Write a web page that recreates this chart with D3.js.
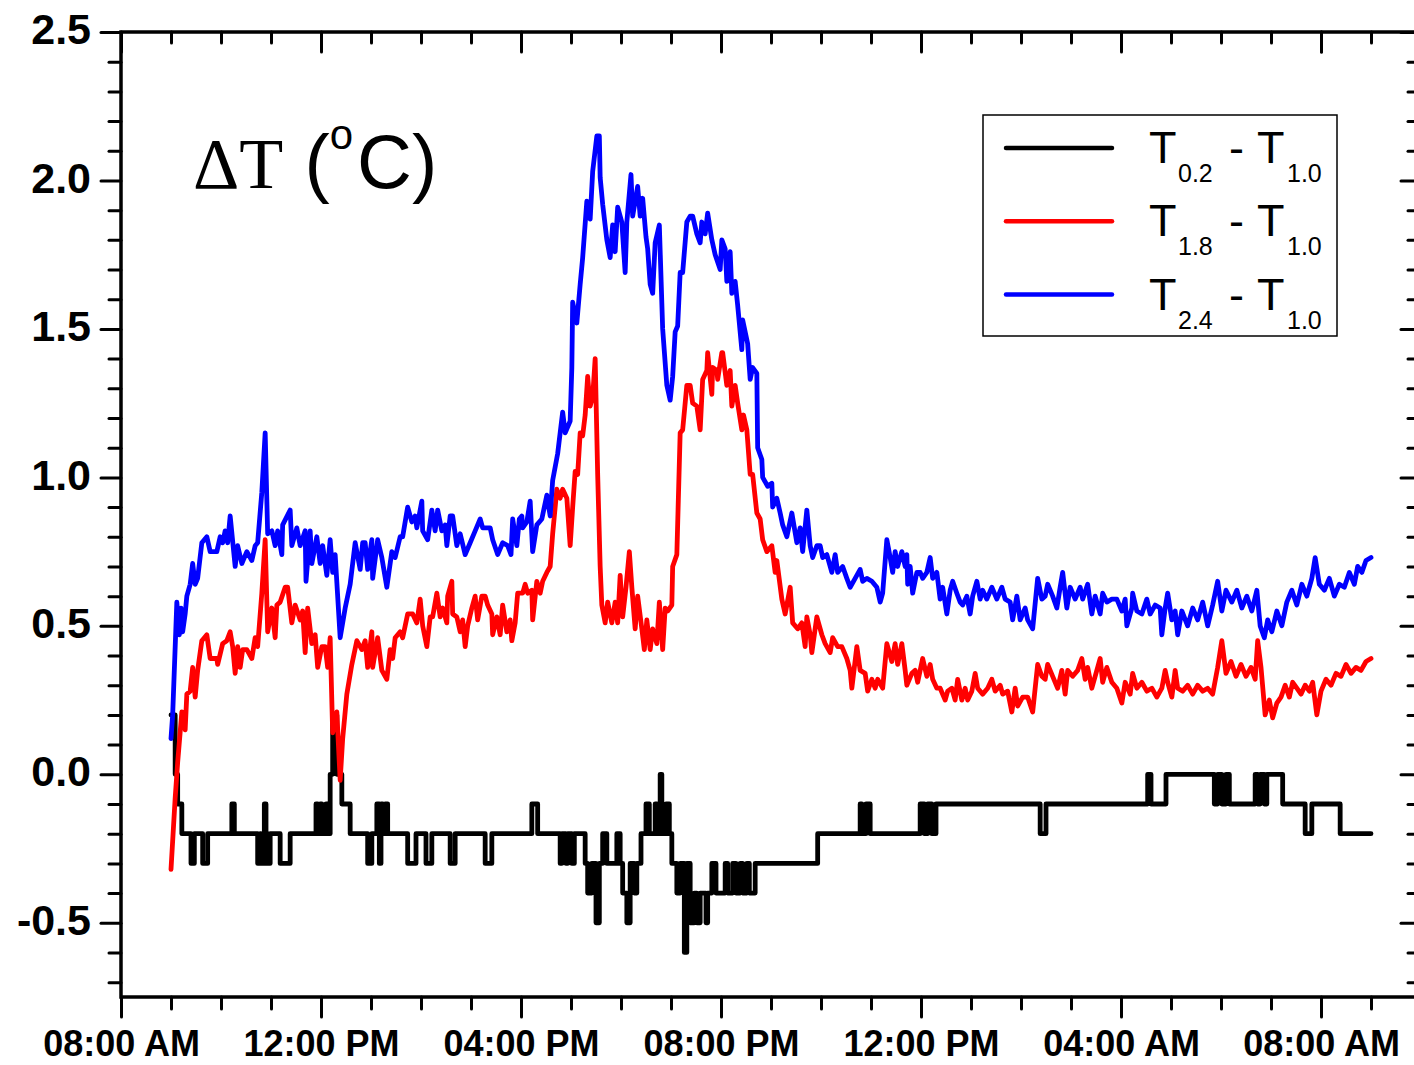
<!DOCTYPE html>
<html>
<head>
<meta charset="utf-8">
<script src="https://cdn.jsdelivr.net/npm/d3@7"></script>
<style>
  body { margin: 0; background: #fff; }
  svg { display: block; }
</style>
</head>
<body>
<svg id="chart" width="1414" height="1065"></svg>
<script>
// time is in minutes after 08:00 AM of day one, values in degC

// tick labels as printed on the original figure
let xTickLabels = ['08:00 AM', '12:00 PM', '04:00 PM', '08:00 PM', '12:00 PM', '04:00 AM', '08:00 AM'];
let yTickLabels = ['-0.5', '0.0', '0.5', '1.0', '1.5', '2.0', '2.5'];

let legendNames = [['0.2', '1.0'], ['1.8', '1.0'], ['2.4', '1.0']];

// T0.2 - T1.0 (black, stepped because it is logged at 0.1 resolution)
let dT02 = [
  [60,0.2],[65,0.0],[68,-0.1],[73,-0.2],[84,-0.3],[88,-0.2],[98,-0.3],[104,-0.2],[133,-0.1],[136,-0.2],
  [164,-0.3],[167,-0.2],[168,-0.3],[172,-0.1],[174,-0.2],[176,-0.3],[179,-0.2],[191,-0.3],[203,-0.2],
  [234,-0.1],[236,-0.2],[239,-0.1],[241,-0.2],[246,-0.1],[248,-0.2],[251,0.0],[254,0.2],[259,0.0],[265,-0.1],
  [275,-0.2],[296,-0.3],[301,-0.2],[307,-0.1],[310,-0.3],[312,-0.1],[314,-0.2],[317,-0.1],[320,-0.2],
  [344,-0.3],[354,-0.2],[366,-0.3],[373,-0.2],[395,-0.3],[401,-0.2],[437,-0.3],[445,-0.2],[493,-0.1],[500,-0.2],
  [527,-0.3],[529,-0.2],[534,-0.3],[536,-0.2],[541,-0.3],[544,-0.2],[557,-0.3],[560,-0.4],[565,-0.3],[570,-0.5],
  [574,-0.3],[578,-0.2],[583,-0.3],[595,-0.2],[599,-0.3],[602,-0.4],[607,-0.5],[611,-0.3],[616,-0.4],[619,-0.3],
  [624,-0.2],[630,-0.1],[634,-0.2],[641,-0.1],[643,-0.2],[647,0.0],[649,-0.2],[654,-0.1],[658,-0.2],[661,-0.3],
  [667,-0.4],[671,-0.3],[676,-0.6],[679,-0.3],[683,-0.5],[688,-0.4],[691,-0.5],[695,-0.4],[702,-0.5],[704,-0.4],
  [709,-0.3],[714,-0.4],[725,-0.3],[728,-0.4],[734,-0.3],[738,-0.4],[743,-0.3],[746,-0.4],[751,-0.3],[754,-0.4],
  [761,-0.3],[836,-0.2],[887,-0.1],[889,-0.2],[894,-0.1],[899,-0.2],[959,-0.1],[964,-0.2],[968,-0.1],[973,-0.2],
  [978,-0.1],[1103,-0.2],[1110,-0.1],[1232,0.0],[1236,-0.1],[1254,0.0],[1312,-0.1],[1316,0.0],[1321,-0.1],
  [1326,0.0],[1330,-0.1],[1361,0.0],[1364,-0.1],[1367,0.0],[1372,-0.1],[1375,0.0],[1394,-0.1],[1421,-0.2],
  [1429,-0.1],[1463,-0.2],[1500,-0.2]
];

// T1.8 - T1.0 (red)
let dT18 = [
  [60,-0.32],[65,-0.08],[68,0.04],[73,0.21],[77,0.15],[79,0.27],[83,0.28],[86,0.36],[89,0.26],[92,0.35],
  [97,0.45],[103,0.47],[107,0.39],[115,0.39],[116,0.37],[122,0.44],[127,0.45],[131,0.48],[134,0.43],[137,0.34],
  [140,0.43],[143,0.36],[146,0.42],[151,0.42],[157,0.39],[161,0.46],[164,0.43],[169,0.61],[173,0.79],[176,0.48],
  [181,0.56],[185,0.46],[187,0.57],[191,0.58],[197,0.63],[200,0.63],[205,0.51],[209,0.57],[215,0.52],[218,0.55],
  [221,0.41],[224,0.56],[229,0.44],[233,0.47],[236,0.36],[241,0.43],[245,0.43],[248,0.36],[251,0.46],[254,0.14],
  [259,0.21],[263,-0.02],[266,0.12],[271,0.27],[277,0.37],[283,0.45],[289,0.42],[293,0.45],[296,0.36],[301,0.48],
  [302,0.36],[308,0.46],[313,0.35],[319,0.32],[323,0.42],[326,0.39],[329,0.46],[335,0.48],[338,0.46],[344,0.54],
  [350,0.54],[355,0.51],[359,0.59],[362,0.50],[367,0.43],[371,0.53],[374,0.53],[379,0.61],[383,0.53],[386,0.56],
  [391,0.51],[392,0.60],[397,0.65],[398,0.54],[403,0.53],[407,0.48],[410,0.52],[413,0.43],[416,0.50],[421,0.56],
  [425,0.60],[428,0.52],[433,0.60],[437,0.60],[440,0.57],[445,0.54],[446,0.47],[451,0.53],[455,0.47],[458,0.57],
  [463,0.48],[467,0.52],[469,0.45],[473,0.51],[476,0.61],[482,0.61],[485,0.64],[488,0.61],[493,0.62],[494,0.52],
  [499,0.65],[503,0.61],[506,0.65],[511,0.68],[515,0.70],[518,0.81],[523,0.96],[527,0.93],[530,0.96],[535,0.93],
  [539,0.77],[542,0.90],[545,1.02],[548,1.01],[551,1.15],[554,1.14],[557,1.21],[560,1.34],[563,1.24],[566,1.27],
  [569,1.40],[572,1.01],[575,0.70],[577,0.57],[581,0.51],[584,0.58],[589,0.51],[593,0.58],[596,0.51],[599,0.67],
  [602,0.53],[606,0.63],[610,0.75],[613,0.63],[617,0.49],[620,0.60],[625,0.49],[628,0.42],[631,0.52],[635,0.42],
  [638,0.49],[643,0.44],[646,0.58],[650,0.42],[653,0.56],[656,0.55],[661,0.57],[662,0.70],[667,0.74],[671,1.15],
  [674,1.16],[679,1.31],[683,1.31],[686,1.25],[691,1.24],[695,1.16],[698,1.33],[703,1.36],[704,1.42],[709,1.28],
  [710,1.37],[715,1.36],[716,1.33],[721,1.42],[722,1.42],[727,1.31],[731,1.36],[733,1.24],[737,1.31],[740,1.25],
  [745,1.16],[747,1.21],[751,1.16],[755,1.01],[758,1.01],[763,0.88],[767,0.86],[770,0.79],[775,0.75],[781,0.77],
  [785,0.68],[787,0.72],[793,0.59],[797,0.54],[803,0.63],[806,0.51],[812,0.49],[817,0.51],[821,0.43],[823,0.53],
  [827,0.47],[829,0.41],[835,0.53],[841,0.47],[845,0.44],[851,0.41],[854,0.46],[860,0.43],[865,0.43],[871,0.39],
  [875,0.35],[877,0.29],[883,0.43],[887,0.35],[893,0.34],[896,0.28],[901,0.32],[905,0.29],[908,0.32],[914,0.29],
  [919,0.44],[925,0.38],[929,0.44],[932,0.37],[937,0.44],[941,0.35],[943,0.30],[949,0.34],[953,0.35],[956,0.31],
  [962,0.39],[967,0.33],[971,0.37],[974,0.32],[979,0.29],[983,0.29],[989,0.25],[992,0.28],[997,0.29],[1001,0.25],
  [1004,0.32],[1009,0.25],[1013,0.29],[1016,0.25],[1021,0.28],[1025,0.34],[1028,0.29],[1034,0.27],[1040,0.29],
  [1045,0.32],[1049,0.28],[1055,0.30],[1058,0.27],[1064,0.28],[1069,0.21],[1073,0.29],[1076,0.23],[1082,0.26],
  [1088,0.26],[1094,0.21],[1100,0.37],[1105,0.33],[1109,0.32],[1112,0.37],[1118,0.33],[1124,0.29],[1129,0.35],
  [1133,0.27],[1136,0.35],[1142,0.33],[1148,0.35],[1153,0.39],[1157,0.32],[1160,0.36],[1165,0.29],[1171,0.35],
  [1175,0.39],[1178,0.31],[1183,0.36],[1189,0.31],[1195,0.29],[1201,0.24],[1205,0.31],[1211,0.27],[1214,0.34],
  [1219,0.29],[1225,0.31],[1231,0.28],[1237,0.29],[1243,0.26],[1249,0.29],[1253,0.35],[1256,0.31],[1261,0.26],
  [1265,0.35],[1268,0.29],[1274,0.28],[1280,0.30],[1286,0.27],[1292,0.30],[1298,0.28],[1304,0.29],[1310,0.27],
  [1316,0.36],[1321,0.45],[1326,0.34],[1332,0.38],[1338,0.33],[1344,0.37],[1350,0.33],[1356,0.36],[1361,0.32],
  [1364,0.45],[1368,0.36],[1373,0.20],[1378,0.25],[1382,0.19],[1387,0.24],[1392,0.26],[1397,0.30],[1402,0.26],
  [1406,0.31],[1411,0.29],[1416,0.27],[1421,0.30],[1426,0.28],[1430,0.31],[1435,0.20],[1440,0.28],[1446,0.32],
  [1452,0.30],[1458,0.34],[1464,0.33],[1470,0.37],[1476,0.34],[1482,0.36],[1488,0.35],[1494,0.38],[1500,0.39]
];

// T2.4 - T1.0 (blue)
let dT24 = [
  [60,0.12],[62,0.20],[67,0.58],[70,0.47],[72,0.56],[74,0.48],[77,0.54],[79,0.60],[83,0.64],[86,0.71],[89,0.64],
  [92,0.66],[97,0.78],[103,0.80],[107,0.75],[115,0.75],[119,0.80],[122,0.78],[125,0.82],[128,0.78],[131,0.87],
  [137,0.70],[140,0.77],[145,0.71],[151,0.75],[157,0.72],[161,0.77],[164,0.78],[169,0.95],[173,1.15],[176,0.81],
  [181,0.82],[185,0.77],[188,0.82],[193,0.74],[194,0.84],[203,0.89],[205,0.77],[211,0.83],[215,0.77],[221,0.82],
  [222,0.65],[227,0.82],[229,0.71],[235,0.80],[239,0.71],[242,0.77],[247,0.67],[251,0.79],[254,0.68],[257,0.74],
  [263,0.46],[269,0.56],[275,0.64],[281,0.78],[287,0.69],[290,0.78],[293,0.78],[296,0.69],[301,0.79],[302,0.66],
  [308,0.79],[313,0.73],[319,0.63],[325,0.75],[329,0.73],[335,0.80],[338,0.80],[344,0.90],[349,0.85],[353,0.87],
  [355,0.83],[361,0.92],[362,0.82],[368,0.79],[373,0.89],[377,0.82],[380,0.89],[385,0.82],[389,0.84],[391,0.77],
  [395,0.87],[398,0.87],[403,0.77],[407,0.81],[413,0.74],[419,0.78],[425,0.82],[431,0.86],[434,0.83],[443,0.83],
  [446,0.79],[452,0.74],[458,0.78],[464,0.77],[468,0.74],[470,0.86],[475,0.77],[478,0.86],[481,0.87],[482,0.83],
  [487,0.85],[491,0.92],[494,0.75],[499,0.84],[505,0.86],[511,0.94],[515,0.87],[518,0.99],[524,1.08],[530,1.22],
  [533,1.15],[539,1.19],[541,1.37],[542,1.59],[547,1.52],[551,1.65],[554,1.74],[559,1.93],[563,1.87],[566,2.03],
  [571,2.15],[574,2.15],[575,2.01],[578,1.92],[583,1.80],[587,1.74],[590,1.85],[593,1.76],[596,1.91],[601,1.86],
  [605,1.69],[607,1.86],[612,2.02],[614,1.88],[620,1.98],[623,1.88],[626,1.94],[630,1.81],[632,1.77],[635,1.65],
  [638,1.62],[641,1.79],[646,1.85],[650,1.50],[655,1.31],[659,1.26],[662,1.34],[665,1.49],[668,1.51],[671,1.69],
  [674,1.69],[679,1.86],[683,1.88],[686,1.88],[691,1.82],[695,1.79],[697,1.86],[701,1.82],[704,1.89],[709,1.80],
  [713,1.75],[719,1.70],[721,1.80],[725,1.77],[727,1.66],[731,1.76],[733,1.62],[737,1.66],[740,1.58],[745,1.43],
  [746,1.53],[752,1.45],[755,1.33],[758,1.37],[763,1.35],[764,1.10],[769,1.06],[770,1.00],[776,0.97],[781,0.98],
  [782,0.90],[787,0.93],[791,0.88],[794,0.84],[799,0.80],[805,0.88],[811,0.78],[815,0.83],[818,0.75],[823,0.89],
  [827,0.77],[830,0.73],[835,0.77],[839,0.77],[842,0.73],[847,0.74],[853,0.68],[857,0.74],[860,0.68],[866,0.70],
  [871,0.66],[875,0.63],[881,0.66],[887,0.69],[890,0.65],[895,0.66],[901,0.65],[907,0.63],[911,0.58],[914,0.61],
  [919,0.79],[923,0.73],[926,0.68],[929,0.75],[932,0.70],[937,0.75],[941,0.70],[943,0.74],[944,0.64],[947,0.70],
  [950,0.61],[955,0.68],[959,0.68],[962,0.66],[967,0.68],[971,0.73],[974,0.66],[979,0.68],[983,0.59],[986,0.63],
  [991,0.54],[995,0.62],[998,0.65],[1003,0.61],[1007,0.58],[1010,0.57],[1015,0.60],[1019,0.54],[1022,0.60],
  [1027,0.65],[1031,0.59],[1034,0.62],[1039,0.59],[1045,0.63],[1051,0.59],[1057,0.63],[1061,0.59],[1067,0.58],
  [1070,0.52],[1075,0.60],[1079,0.52],[1085,0.56],[1088,0.52],[1094,0.49],[1100,0.66],[1105,0.59],[1109,0.60],
  [1112,0.64],[1118,0.60],[1123,0.56],[1127,0.63],[1130,0.68],[1135,0.56],[1139,0.63],[1145,0.59],[1151,0.63],
  [1154,0.59],[1160,0.64],[1165,0.54],[1169,0.60],[1175,0.54],[1178,0.61],[1183,0.58],[1189,0.59],[1195,0.59],
  [1201,0.55],[1205,0.59],[1207,0.50],[1213,0.56],[1214,0.61],[1219,0.55],[1225,0.54],[1231,0.59],[1235,0.54],
  [1241,0.57],[1247,0.56],[1249,0.47],[1253,0.56],[1256,0.61],[1261,0.52],[1265,0.55],[1268,0.47],[1273,0.55],
  [1280,0.50],[1286,0.56],[1292,0.52],[1298,0.58],[1304,0.50],[1310,0.57],[1316,0.65],[1321,0.55],[1326,0.62],
  [1333,0.58],[1339,0.62],[1345,0.56],[1351,0.60],[1357,0.55],[1363,0.62],[1367,0.50],[1372,0.46],[1376,0.52],
  [1381,0.48],[1387,0.55],[1393,0.50],[1399,0.58],[1405,0.62],[1411,0.57],[1417,0.64],[1423,0.60],[1429,0.66],
  [1433,0.73],[1438,0.64],[1444,0.62],[1450,0.66],[1456,0.60],[1462,0.64],[1468,0.63],[1474,0.68],[1480,0.64],
  [1484,0.70],[1489,0.68],[1494,0.72],[1500,0.73]
];

let colors = ['#000000', '#ff0000', '#0000ff'];

let svg = d3.select('#chart');

let plotLeft = 121, plotRight = 1421, plotTop = 32, plotBottom = 997;

// 08:00 AM to 10:00 AM next day
let x = d3.scaleLinear().domain([0, 26 * 60]).range([plotLeft, plotRight]);
let y = d3.scaleLinear().domain([-0.75, 2.5]).range([plotBottom, plotTop]);

let majorX = d3.range(0, 25 * 60, 240);
let minorX = d3.range(0, 26 * 60 + 1, 60).filter(function(d){ return d % 240 != 0 });
let majorY = yTickLabels.map(Number);
let minorY = d3.range(-7, 26).map(function(d){ return d / 10 }).filter(function(d){ return Math.round(d * 10) % 5 != 0 });

let sans = '"Liberation Sans", Arial, Helvetica, sans-serif';

function styleAxis(g) {
  g.select('.domain').remove();
  g.selectAll('.tick line')
    .attr('stroke', '#000')
    .attr('stroke-width', 3)
    .attr('stroke-linecap', 'round');
}

// bottom
svg.append('g')
  .attr('transform', 'translate(0,' + plotBottom + ')')
  .call(d3.axisBottom(x).tickValues(majorX).tickSize(20).tickPadding(13)
    .tickFormat(function(d, i){ return xTickLabels[i] }))
  .call(styleAxis)
  .selectAll('text')
  .attr('font-family', sans).attr('font-weight', 'bold').attr('font-size', 36).attr('fill', '#000');
svg.append('g')
  .attr('transform', 'translate(0,' + plotBottom + ')')
  .call(d3.axisBottom(x).tickValues(minorX).tickSize(12).tickFormat(''))
  .call(styleAxis);

// top (ticks inward)
svg.append('g')
  .attr('transform', 'translate(0,' + plotTop + ')')
  .call(d3.axisBottom(x).tickValues(majorX.concat([1440])).tickSize(20).tickFormat(''))
  .call(styleAxis);
svg.append('g')
  .attr('transform', 'translate(0,' + plotTop + ')')
  .call(d3.axisBottom(x).tickValues(minorX).tickSize(11).tickFormat(''))
  .call(styleAxis);

// left
svg.append('g')
  .attr('transform', 'translate(' + plotLeft + ',0)')
  .call(d3.axisLeft(y).tickValues(majorY).tickSize(20).tickPadding(10)
    .tickFormat(function(d, i){ return yTickLabels[i] }))
  .call(styleAxis)
  .selectAll('text')
  .attr('dy', '0.27em')
  .attr('font-family', sans).attr('font-weight', 'bold').attr('font-size', 43).attr('fill', '#000');
svg.append('g')
  .attr('transform', 'translate(' + plotLeft + ',0)')
  .call(d3.axisLeft(y).tickValues(minorY).tickSize(12).tickFormat(''))
  .call(styleAxis);

// right (ticks inward)
svg.append('g')
  .attr('transform', 'translate(' + plotRight + ',0)')
  .call(d3.axisLeft(y).tickValues(majorY).tickSize(20).tickFormat(''))
  .call(styleAxis);
svg.append('g')
  .attr('transform', 'translate(' + plotRight + ',0)')
  .call(d3.axisLeft(y).tickValues(minorY).tickSize(13).tickFormat(''))
  .call(styleAxis);

// frame
svg.append('rect')
  .attr('x', plotLeft).attr('y', plotTop)
  .attr('width', plotRight - plotLeft).attr('height', plotBottom - plotTop)
  .attr('fill', 'none').attr('stroke', '#000').attr('stroke-width', 3.5);

// series
let line = d3.line().x(function(d){ return x(d[0]) }).y(function(d){ return y(d[1]) });
let stepLine = d3.line().curve(d3.curveStepAfter).x(function(d){ return x(d[0]) }).y(function(d){ return y(d[1]) });

let series = [
  {data: dT02, gen: stepLine, color: colors[0]},
  {data: dT18, gen: line, color: colors[1]},
  {data: dT24, gen: line, color: colors[2]}
];

series.forEach(function(s){
  svg.append('path')
    .attr('d', s.gen(s.data))
    .attr('fill', 'none')
    .attr('stroke', s.color)
    .attr('stroke-width', 4.8)
    .attr('stroke-linejoin', 'round')
    .attr('stroke-linecap', 'round');
});

// annotation
let note = svg.append('text')
  .attr('x', 193).attr('y', 188)
  .attr('font-size', 72).attr('fill', '#000');
note.append('tspan').attr('font-family', '"Liberation Serif", "Times New Roman", serif').text('\u0394T');
note.append('tspan').attr('font-family', sans).attr('font-size', 76).text(' (');
note.append('tspan').attr('font-family', sans).attr('font-size', 42).attr('dy', -39).text('o');
note.append('tspan').attr('font-family', sans).attr('font-size', 76).attr('dx', 4).attr('dy', 39).text('C)');

// legend
let legend = svg.append('g');
legend.append('rect')
  .attr('x', 983).attr('y', 115).attr('width', 354).attr('height', 221)
  .attr('fill', '#fff').attr('stroke', '#000').attr('stroke-width', 1.5);

legendNames.forEach(function(n, i){
  let cy = 148 + i * 73.3;
  legend.append('line')
    .attr('x1', 1006).attr('x2', 1112).attr('y1', cy).attr('y2', cy)
    .attr('stroke', colors[i]).attr('stroke-width', 4.5).attr('stroke-linecap', 'round');
  let t = legend.append('text')
    .attr('y', cy + 15)
    .attr('font-family', sans).attr('font-size', 45).attr('fill', '#000');
  t.append('tspan').attr('x', 1149).text('T');
  t.append('tspan').attr('x', 1178).attr('dy', 19).attr('font-size', 25).text(n[0]);
  t.append('tspan').attr('x', 1229).attr('dy', -19).text('-');
  t.append('tspan').attr('x', 1257).text('T');
  t.append('tspan').attr('x', 1287).attr('dy', 19).attr('font-size', 25).text(n[1]);
});
</script>
</body>
</html>
